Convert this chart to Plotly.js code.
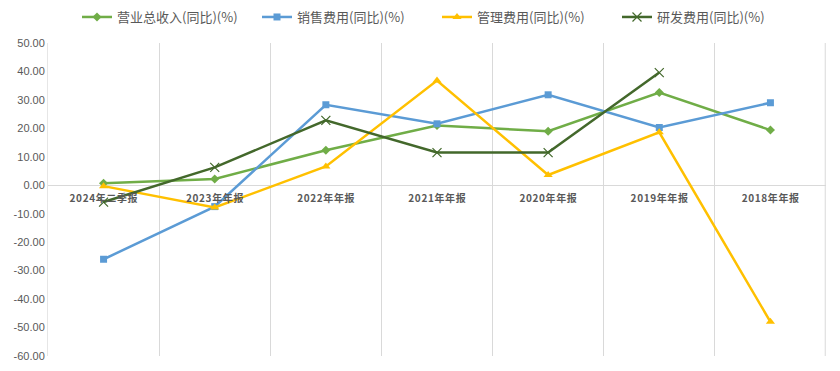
<!DOCTYPE html>
<html><head><meta charset="utf-8">
<script src="https://cdn.plot.ly/plotly-3.0.1.min.js"></script>
<style>html,body{margin:0;padding:0;background:#fff}#c{width:840px;height:371px}</style>
</head><body><div id="c"></div>
<script>
const categories = ['2024年二季报','2023年年报','2022年年报','2021年年报','2020年年报','2019年年报','2018年年报'];
const revenue = [0.7, 2.2, 12.3, 21.0, 19.0, 32.6, 19.4];
const salesExp = [-26.0, -7.5, 28.3, 21.6, 31.8, 20.3, 29.0];
const adminExp = [-0.3, -7.8, 6.6, 36.8, 3.6, 18.6, -48.0];
const rdExp = [-5.9, 6.3, 22.8, 11.5, 11.5, 39.6, null];
const seriesNames = ['营业总收入(同比)(%)','销售费用(同比)(%)','管理费用(同比)(%)','研发费用(同比)(%)'];
const yTicks = [50,40,30,20,10,0,-10,-20,-30,-40,-50,-60];

const font = '"Noto Sans CJK SC", "Microsoft YaHei", sans-serif';
function tr(y, name, color, sym, size, mline){
  return {x: categories, y: y, name: name, type:'scatter', mode:'lines+markers',
    line:{color:color, width:2.5}, connectgaps:false,
    marker:{symbol:sym, size:size, color:color, line: mline || {width:0}}};
}
const data = [
  tr(revenue, seriesNames[0], '#70AD47', 'diamond', 7),
  tr(salesExp, seriesNames[1], '#5B9BD5', 'square', 7),
  tr(adminExp, seriesNames[2], '#FFC000', 'triangle-up', 8),
  tr(rdExp, seriesNames[3], '#43682B', 'x-thin', 9, {width:1.2, color:'#43682B'})
];
const spaced = categories.map(c => c.split('').join('\u200A'));
const layout = {
  width:840, height:371, paper_bgcolor:'#fff', plot_bgcolor:'#fff',
  margin:{l:48, r:14, t:43, b:15, autoexpand:false},
  showlegend:true,
  legend:{orientation:'h', x:0.5, xanchor:'center', y:1.083, yanchor:'middle', yref:'paper',
    font:{family:font, size:13, color:'#595959'}, entrywidth:135, entrywidthmode:'pixels',
    itemwidth:30, tracegroupgap:0},
  xaxis:{type:'category', range:[-0.5,6.5], anchor:'free', position:60/110,
    tickvals:categories, ticktext:spaced,
    tickson:'boundaries', showgrid:true, gridcolor:'#D9D9D9', gridwidth:1,
    ticks:'', showline:false, zeroline:false, ticklabelstandoff:6,
    tickfont:{family:font, size:10, color:'#595959', weight:'bold'}},
  yaxis:{range:[-60,50], tickvals:yTicks, ticktext:yTicks.map(v=>v.toFixed(2)),
    showgrid:false, zeroline:true, zerolinecolor:'#D9D9D9', zerolinewidth:1,
    showline:true, linecolor:'#E6E6E6', ticks:'',
    tickfont:{family:'"Liberation Sans", Arial, sans-serif', size:11, color:'#595959'}},
  shapes:[{type:'line', xref:'paper', yref:'paper', x0:0.999, x1:0.999, y0:0, y1:1, line:{color:'#D9D9D9', width:1}}]
};
Plotly.newPlot('c', data, layout, {displayModeBar:false, staticPlot:true});
</script></body></html>
